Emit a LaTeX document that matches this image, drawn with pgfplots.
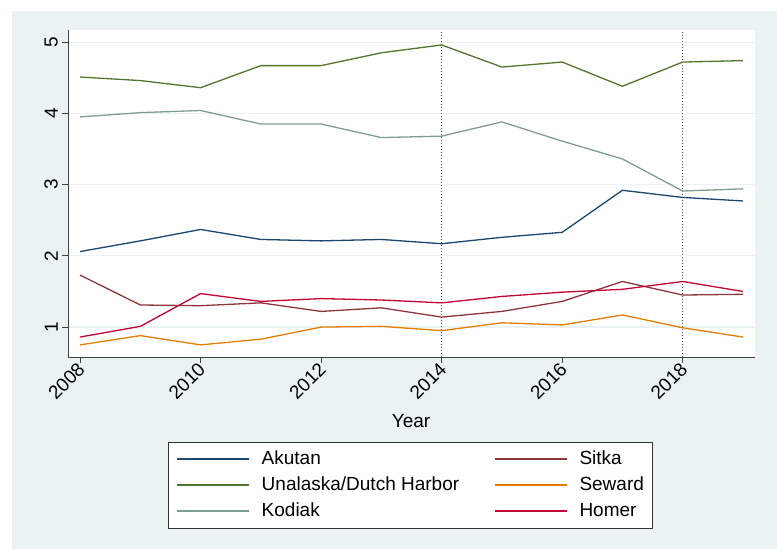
\documentclass[border=0pt]{standalone}
\usepackage{pgfplots}
\pgfplotsset{compat=1.18}
\usepackage{fontspec}
\setmainfont{Liberation Sans}
\definecolor{bgc}{HTML}{EAF2F3}
\definecolor{cnavy}{HTML}{1A476F}
\definecolor{cmaroon}{HTML}{90353B}
\definecolor{cgreen}{HTML}{55752F}
\definecolor{corange}{HTML}{E37E00}
\definecolor{ckodiak}{HTML}{7E9E8F}
\definecolor{ccran}{HTML}{C10534}
\begin{document}
\begin{tikzpicture}[x=1pt,y=1pt]
\path[fill=white] (0,0) rectangle (777,549);
\fill[bgc] (12,0) rectangle (777,538);
\begin{axis}[
  at={(68pt,192pt)}, anchor=south west,
  scale only axis, width=687pt, height=327pt,
  xmin=2007.8, xmax=2019.2, ymin=0.58, ymax=5.17,
  axis x line*=bottom, axis y line*=left,
  axis line style={-, draw=black!75, line width=0.9pt},
  xtick={2008,2010,2012,2014,2016,2018}, ytick={1,2,3,4,5},
  tick align=outside, major tick length=6pt,
  tick style={draw=black!75, line width=0.8pt},
  ymajorgrids, grid style={color=bgc, line width=1.2pt},
  /pgf/number format/1000 sep={},
  /pgf/number format/assume math mode=true,
  font=\fontsize{19}{22}\selectfont,
  tick label style={font=\fontsize{19}{22}\selectfont},
  xticklabel style={rotate=45, anchor=east, inner sep=1pt, yshift=-3pt},
  yticklabel style={rotate=90, anchor=south, inner sep=4pt},
  axis background/.style={fill=white},
  xlabel={Year},
  xlabel style={at={(axis description cs:0.4993,-0.1957)}, anchor=center},
  every axis plot/.append style={line width=1.3pt},
  legend columns=2,
  legend cell align=left,
  legend image code/.code={\draw[#1] (0pt,0pt) -- (72pt,0pt);},
  legend style={at={(axis description cs:0.1456,-0.259)}, anchor=north west,
    draw=black!80, line width=0.8pt, fill=white,
    font=\fontsize{19}{22}\selectfont,
    inner xsep=8pt, inner ysep=4pt,
    nodes={inner xsep=0pt, inner ysep=4.5pt, text height=13.5pt, text depth=3.5pt},
    /tikz/every odd column/.append style={column sep=12pt},
    /tikz/every even column/.append style={column sep=35pt}},
]
\addplot[black!70, line width=0.9pt, dash pattern=on 1pt off 2pt, forget plot] coordinates {(2014,0.58) (2014,5.17)};
\addplot[black!70, line width=0.9pt, dash pattern=on 1pt off 2pt, forget plot] coordinates {(2018,0.58) (2018,5.17)};
\addplot[cnavy] coordinates {(2008,2.06) (2009,2.21) (2010,2.37) (2011,2.23) (2012,2.21) (2013,2.23) (2014,2.17) (2015,2.26) (2016,2.33) (2017,2.92) (2018,2.82) (2019,2.77)};
\addlegendentry{Akutan}
\addplot[cmaroon] coordinates {(2008,1.73) (2009,1.31) (2010,1.30) (2011,1.34) (2012,1.22) (2013,1.27) (2014,1.14) (2015,1.22) (2016,1.36) (2017,1.64) (2018,1.45) (2019,1.46)};
\addlegendentry{Sitka}
\addplot[cgreen] coordinates {(2008,4.51) (2009,4.46) (2010,4.36) (2011,4.67) (2012,4.67) (2013,4.85) (2014,4.96) (2015,4.65) (2016,4.72) (2017,4.38) (2018,4.72) (2019,4.74)};
\addlegendentry{Unalaska/Dutch Harbor}
\addplot[corange] coordinates {(2008,0.75) (2009,0.88) (2010,0.75) (2011,0.83) (2012,1.00) (2013,1.01) (2014,0.95) (2015,1.06) (2016,1.03) (2017,1.17) (2018,0.99) (2019,0.86)};
\addlegendentry{Seward}
\addplot[ckodiak] coordinates {(2008,3.95) (2009,4.01) (2010,4.04) (2011,3.85) (2012,3.85) (2013,3.66) (2014,3.68) (2015,3.88) (2016,3.61) (2017,3.36) (2018,2.91) (2019,2.94)};
\addlegendentry{Kodiak}
\addplot[ccran] coordinates {(2008,0.86) (2009,1.01) (2010,1.47) (2011,1.36) (2012,1.40) (2013,1.38) (2014,1.34) (2015,1.43) (2016,1.49) (2017,1.53) (2018,1.64) (2019,1.50)};
\addlegendentry{Homer}
\end{axis}
\end{tikzpicture}
\end{document}
